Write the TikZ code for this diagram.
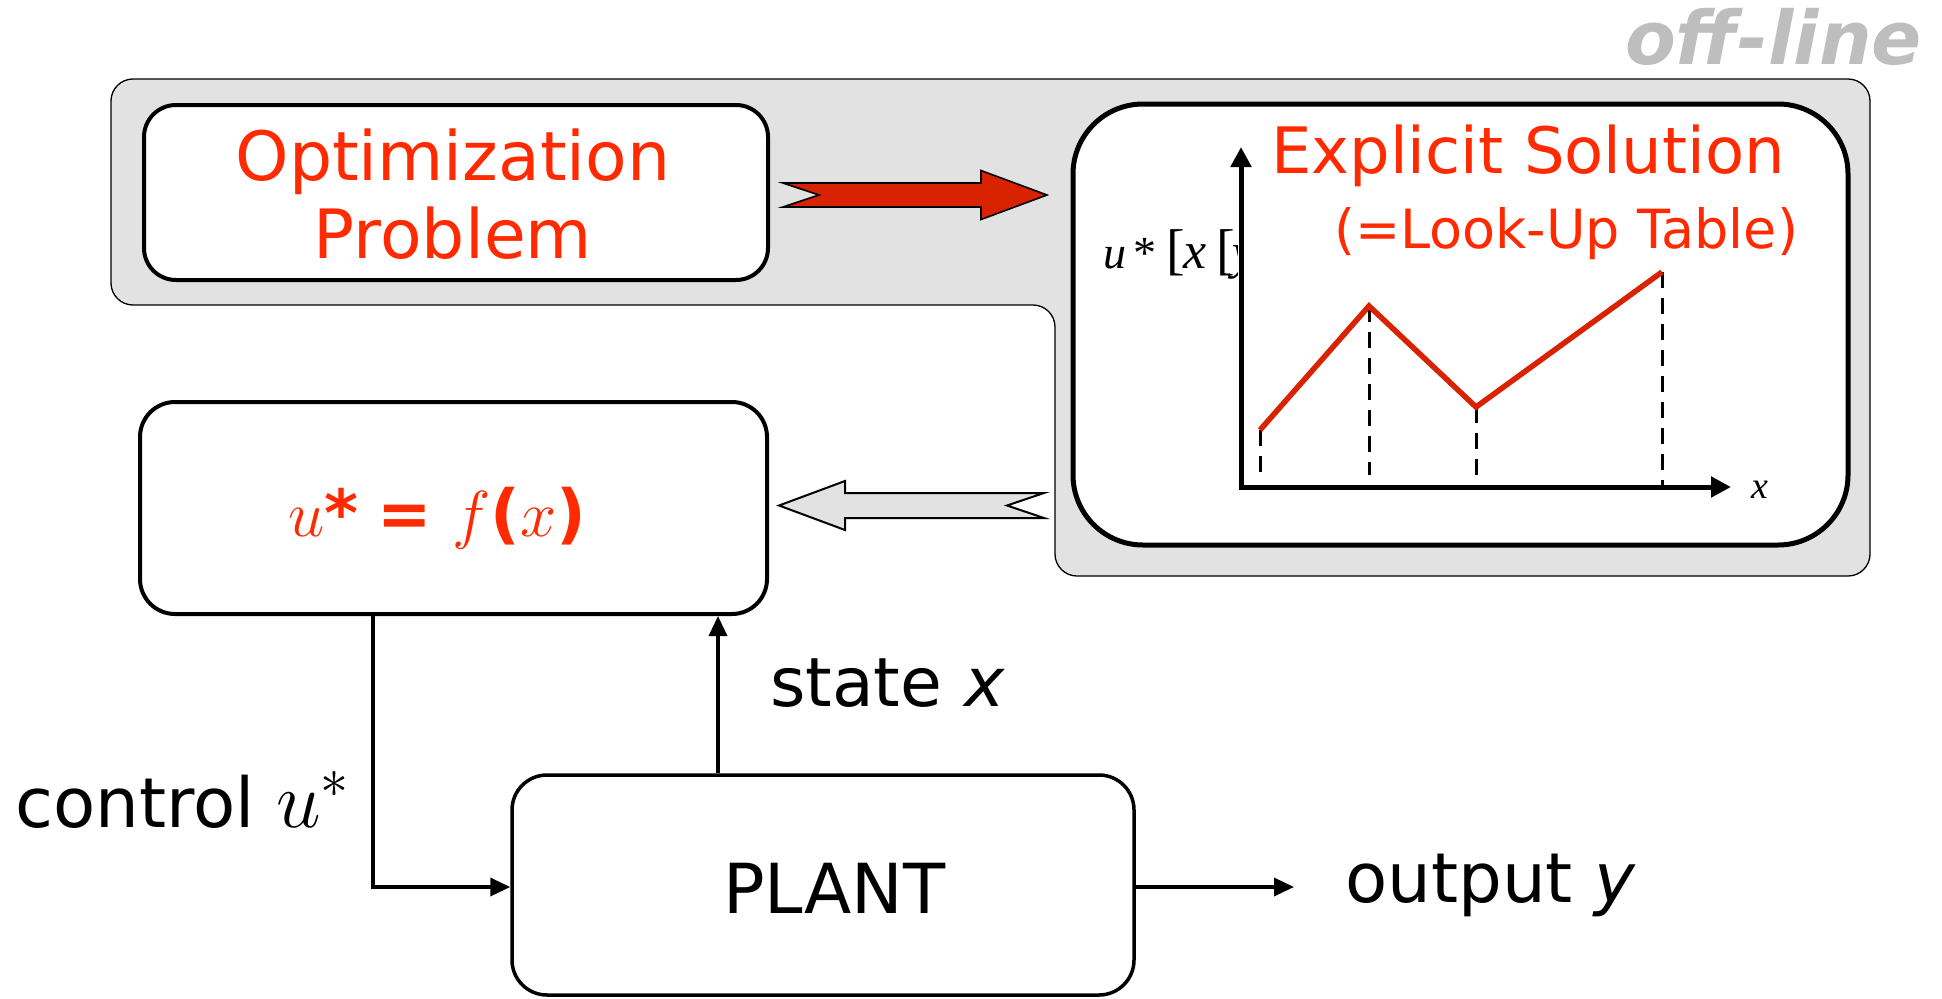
\documentclass[tikz,border=0pt]{standalone}
\usepackage{fix-cm}
\usepackage{fontspec}
\newfontfamily\dv{DejaVu Sans}
\newfontfamily\tms{Liberation Serif}
\usetikzlibrary{arrows.meta}
\definecolor{txtred}{RGB}{255,42,0}
\definecolor{curvered}{RGB}{216,34,0}
\definecolor{panelgray}{RGB}{226,226,226}
\definecolor{labelgray}{RGB}{190,190,190}
\newcommand\fs[1]{\fontsize{#1}{#1}\selectfont}

\begin{document}
\begin{tikzpicture}[x=1pt,y=-1pt,
  block/.style={draw=black, line width=4pt, fill=white, rounded corners=35pt, inner sep=0pt},
  flow/.style={line width=3.5pt, -{Triangle[length=20pt,width=18pt]}},
  axis/.style={line width=5pt, -{Triangle[length=20pt,width=20pt]}},
  guide/.style={line width=3pt, dash pattern=on 16pt off 10pt},
  redtxt/.style={text=txtred, inner sep=0pt},
  blacktxt/.style={text=black, inner sep=0pt}]
\useasboundingbox (0,0) rectangle (1942,998);

% off-line label
\node[anchor=base east, text=labelgray, inner sep=0pt] (offline) at (1922,64)
  {\fs{74}\dv\bfseries\itshape off-line};

% shaded off-line region
\filldraw[fill=panelgray, draw=black, line width=1.3pt, rounded corners=22pt]
  (111,79) -- (1870,79) -- (1870,576) -- (1055,576) -- (1055,305) -- (111,305) -- cycle;

% optimization problem box
\node[block, rounded corners=32pt, minimum width=624pt, minimum height=175pt] (opt) at (456,192.5) {};
\node[redtxt, anchor=base] (opt1) at (453,180) {\fs{68}\dv Optimization};
\node[redtxt, anchor=base] (opt2) at (453,258) {\fs{68}\dv Problem};

% explicit solution box
\node[block, line width=5pt, rounded corners=70pt, minimum width=775pt, minimum height=441pt] (sol) at (1460.5,324.5) {};
\node[redtxt, anchor=base] (sol1) at (1528,173) {\fs{64}\dv Explicit Solution};
\node[redtxt, anchor=base] (sol2) at (1566,248) {\fs{54}\dv (=Look-Up Table)};

% piecewise affine map
\coordinate (o) at (1241,487);
\coordinate (ytip) at (1241,147);
\coordinate (xtip) at (1731,487);
\coordinate (p1) at (1260,430);
\coordinate (p2) at (1369,306);
\coordinate (p3) at (1476,407);
\coordinate (p4) at (1662,272);
\draw[guide] (p1) -- (p1 |- 0,478);
\draw[guide] (p2) -- (p2 |- 0,475);
\draw[guide] (p3) -- (p3 |- 0,482);
\draw[guide] (p4) -- (p4 |- o);
\draw[curvered, line width=5.5pt, line join=miter] (p1) -- (p2) -- (p3) -- (p4);
\draw[axis] (o) -- (ytip);
\draw[axis] ([xshift=-2.5pt]o) -- (xtip);
\node[inner sep=0pt, anchor=base] (xlab) at (1760,498) {\fs{38}\tms\itshape x};
\begin{scope}
  \clip (1090,200) rectangle (1237,300);
  \node[inner sep=0pt, anchor=base west] (ulab) at (1103,268)
    {\fs{46}\tms{\itshape u}\,*\,\kern2pt{\fs{56}[}\kern-2pt{\fs{52}\itshape x}\kern10pt{\fs{56}[}\kern-2pt{\fs{50}\itshape y}};
\end{scope}

% block arrows between the boxes
\filldraw[fill=curvered, draw=black, line width=1.6pt, line join=miter]
  (783,183) -- (981,183) -- (981,170.5) -- (1047,195) -- (981,219.5) -- (981,207) -- (783,207) -- (819,195) -- cycle;
\filldraw[fill=panelgray, draw=black, line width=2pt, line join=miter]
  (779,505.5) -- (845,481) -- (845,493) -- (1044,493) -- (1007,505.5) -- (1044,518) -- (845,518) -- (845,530) -- cycle;

% controller box
\node[block, minimum width=627pt, minimum height=212pt] (ustar) at (453.5,508) {};
\node[redtxt, anchor=base] (law) at (437,536)
  {\fs{65}$u${\dv\bfseries *} {\dv\bfseries =} $f${\dv\bfseries (}$x${\dv\bfseries )}};

% plant box
\node[block, line width=3.5pt, minimum width=622pt, minimum height=220pt] (plant) at (823,885) {};
\node[blacktxt, anchor=base] (plantlab) at (834.5,913) {\fs{69}\dv PLANT};

% feedback loop
\coordinate (cu) at (373,887);
\coordinate (sx) at (718,700);
\coordinate (yout) at (1294,887);
\draw[flow] (cu |- ustar.south) -- (cu) -- (cu -| plant.west);
\draw[flow] (sx |- plant.north) -- (sx |- ustar.south);
\draw[flow] (yout -| plant.east) -- (yout);

\node[blacktxt, anchor=base west] (statelab) at (770,706) {\fs{68}\dv state \textit{x}};
\node[blacktxt, anchor=base west] (ctrllab) at (15,827) {\fs{69}\dv control \rmfamily\fs{80}$u^*$};
\node[blacktxt, anchor=base west] (outlab) at (1345,902) {\fs{69}\dv output \textit{y}};
\end{tikzpicture}
\end{document}
